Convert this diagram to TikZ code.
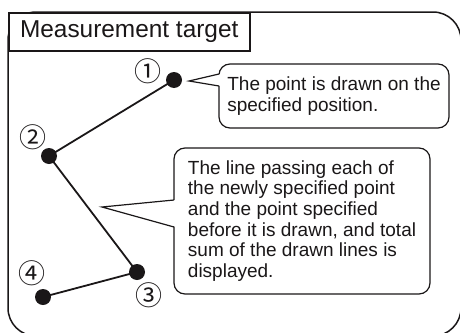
\documentclass[tikz,border=0pt]{standalone}
\usepackage{fontspec}
\setmainfont{Liberation Sans}
\newfontfamily\symfont{Noto Sans CJK JP}
\definecolor{ink}{HTML}{1A1718}
\begin{document}
\begin{tikzpicture}[x=1pt,y=-1pt,
  frame/.style={draw=ink,line width=1.5pt},
  callbox/.style={draw=ink,line width=1.2pt,fill=white,rounded corners=11pt,
    align=left,inner sep=0pt,font=\fontsize{19}{20.7}\selectfont,text=ink},
  dot/.style={circle,fill=ink,minimum size=16pt,inner sep=0pt},
  seg/.style={draw=ink,line width=1.8pt},
  num/.style={font=\symfont\fontsize{27}{27}\selectfont,text=ink,inner sep=0pt},
  ptr/.style={draw=ink,line width=1.2pt}]
\useasboundingbox (0,0) rectangle (460,332);
\clip (0,0) rectangle (460,332);
% outer frame
\draw[frame,rounded corners=28pt] (8,12) -- (461,12) -- (461,336) -- (8,336) -- cycle;
% title
\node[frame,fill=white,minimum width=241pt,minimum height=38pt,inner sep=0pt,anchor=north west,
  font=\fontsize{24.4}{26}\selectfont,text=ink] (title) at (8,12) {Measurement target};
% points
\node[dot] (p1) at (174,80) {};
\node[dot] (p2) at (49,156) {};
\node[dot] (p3) at (137,272) {};
\node[dot] (p4) at (43,297) {};
\draw[seg] (p1.center) -- (p2.center) -- (p3.center) -- (p4.center);
\node[num] (n1) at (148,71) {①};
\node[num] (n2) at (33,137) {②};
\node[num] (n3) at (149,295) {③};
\node[num] (n4) at (32,273) {④};
% callout 1
\node[callbox,minimum width=230pt,minimum height=64pt] (c1) at (334,96)
  {The point is drawn on the\\specified position.};
\coordinate (t1) at (189,81);
\coordinate (a1) at (219,74);
\coordinate (b1) at (219,86);
\fill[white] (t1) -- ([xshift=2pt]a1) -- ([xshift=2pt]b1) -- cycle;
\draw[ptr] (a1) -- (t1) -- (b1);
% callout 2
\node[callbox,minimum width=256pt,minimum height=146pt] (c2) at (302,221)
  {The line passing each of\\the newly specified point\\and the point specified\\before it is drawn, and total\\sum of the drawn lines is\\displayed.};
\coordinate (t2) at (102,207);
\coordinate (a2) at (174,200);
\coordinate (b2) at (174,227);
\fill[white] (t2) -- ([xshift=2pt]a2) -- ([xshift=2pt]b2) -- cycle;
\draw[ptr] (a2) -- (t2) -- (b2);
\end{tikzpicture}
\end{document}
